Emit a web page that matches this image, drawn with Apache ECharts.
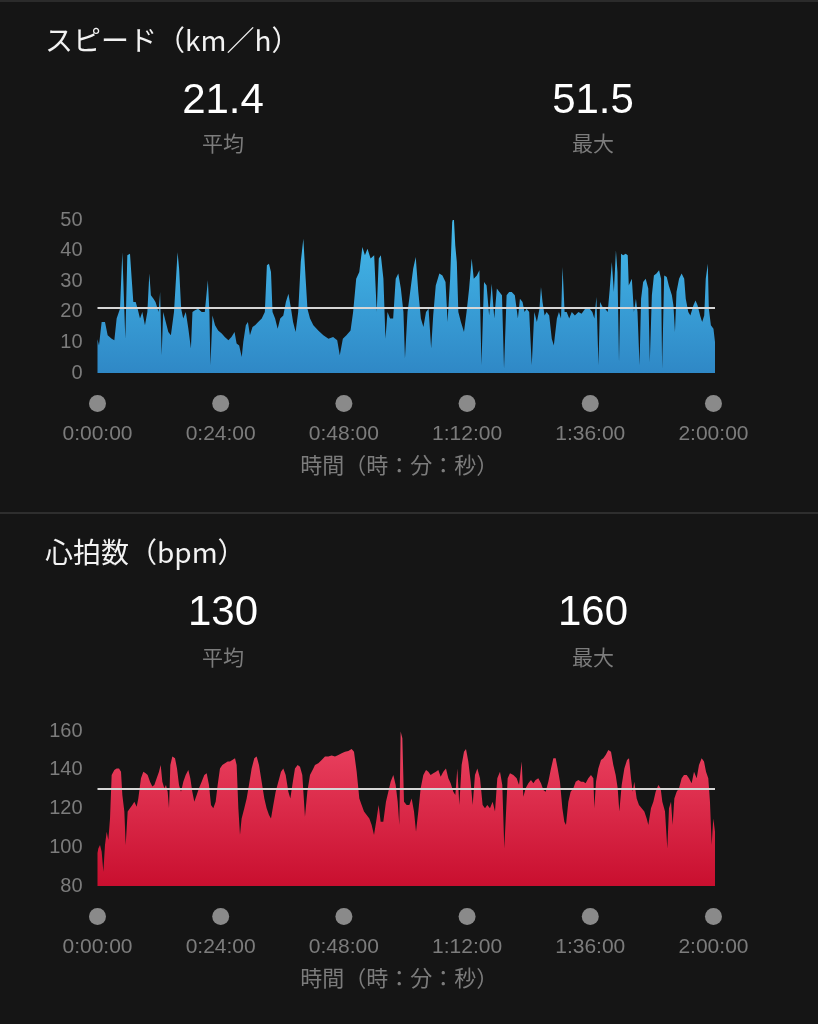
<!DOCTYPE html>
<html>
<head>
<meta charset="utf-8">
<script src="https://cdn.jsdelivr.net/npm/echarts@6/dist/echarts.min.js"></script>
<style>
html,body{margin:0;padding:0;background:#151515;}
#c{width:818px;height:1024px;}
</style>
</head>
<body>
<div id="c"></div>
<script>
// ---- data (minutes since start) ----
const speedTime = [0,0.29,0.81,1.46,1.98,2.76,3.28,3.73,4.38,4.84,5.42,5.81,6.33,6.66,6.98,7.44,7.82,8.28,8.73,9.25,9.71,10.1,10.4,10.9,11.3,11.9,12.2,12.5,12.8,13.3,13.8,14.3,14.9,15.6,15.9,16.3,16.7,17.2,17.7,18.2,18.5,19.0,19.6,20.3,20.9,21.5,21.8,22.0,22.4,22.9,23.5,24.2,24.8,25.5,26.1,26.7,27.1,27.6,28.1,28.4,28.9,29.3,29.7,30.2,30.7,31.3,32.0,32.6,33.0,33.4,33.8,34.1,34.6,35.1,35.6,36.2,36.7,37.2,37.7,38.1,38.6,39.1,39.6,40.1,40.55,40.9,41.4,42.05,43.0,44.0,45.0,45.9,46.7,47.2,47.8,48.5,49.3,49.8,50.4,51.0,51.6,52.1,52.6,53.2,53.9,54.4,54.8,55.2,55.7,56.1,56.5,57.0,57.6,58.1,58.6,59.1,59.6,59.9,60.4,61.0,61.5,62.0,62.5,63.0,63.5,64.0,64.5,65.0,65.4,65.9,66.6,67.2,67.8,68.2,68.7,69.1,69.4,69.7,70.0,70.3,70.8,71.4,71.9,72.4,72.9,73.3,73.9,74.4,74.8,75.3,75.8,76.3,76.8,77.3,77.8,78.3,78.8,79.2,79.7,80.2,80.7,81.3,81.9,82.3,82.8,83.2,83.6,84.1,84.6,85.1,85.6,86.1,86.4,86.7,87.1,87.5,88.0,88.5,88.9,89.5,89.9,90.3,90.6,91.0,91.4,91.9,92.4,93.0,93.7,94.3,95.0,95.5,95.9,96.4,96.8,97.2,97.6,97.9,98.4,98.9,99.4,99.8,100.2,100.6,101.0,101.3,101.6,102.0,102.4,102.9,103.3,103.5,104.1,104.5,104.9,105.2,105.6,105.9,106.3,106.8,107.3,107.6,108.0,108.4,108.9,109.4,109.8,110.0,110.4,110.9,111.3,111.9,112.2,112.5,112.8,113.3,113.8,114.3,114.6,115.1,115.5,116.1,116.5,116.9,117.4,117.8,118.2,118.5,118.9,119.1,119.5,120.0,120.3];
const speedValues = [11,9.0,16.7,16.7,12.3,11.2,10.7,17.8,21.0,39.5,11.2,38.5,39.0,30.8,23.2,23.2,21.0,17.8,19.9,15.6,19.9,32.5,25.4,24.3,23.2,19.9,26.5,5.8,19.9,16.7,13.4,12.3,19.9,39.5,34.1,21.0,17.8,19.9,14.5,8.0,19.9,20.5,21.0,19.9,19.9,30.3,19.9,2.5,18.8,15.6,13.9,12.9,11.8,10.7,11.8,13.4,9.6,9.0,5.2,10.1,15.6,16.7,12.3,15.0,15.6,16.7,17.8,19.9,35.2,35.7,33.0,19.9,17.8,14.5,17.8,18.8,23.2,25.9,21.0,16.7,13.4,19.9,36.3,43.9,30.8,21.0,17.8,15.6,13.9,12.3,11.2,11.8,10.7,5.8,11.2,12.3,13.9,19.9,30.8,33.0,41.2,38.5,40.6,37.4,38.5,19.9,37.4,38.5,30.8,11.2,19.9,17.8,17.8,30.8,32.5,27.6,19.9,4.7,19.9,27.6,34.1,37.9,26.5,17.8,15.0,19.9,21.0,8.0,18.8,28.6,32.5,31.9,29.7,16.7,30.8,49.3,51.5,41.7,36.3,19.9,16.7,13.4,19.9,27.6,37.4,30.8,31.9,33.6,2.5,29.7,28.6,18.8,29.2,17.8,27.6,26.5,25.4,1.4,25.4,26.5,26.5,25.4,17.8,24.3,23.2,19.9,21.0,19.9,2.5,19.9,16.7,21.0,28.1,23.2,18.8,19.9,18.8,11.2,9.0,17.8,19.9,17.8,34.6,19.9,19.9,17.8,19.9,18.8,19.9,19.4,21.0,21.6,21.0,19.9,17.8,24.8,2.5,23.2,21.6,21.0,19.9,27.6,36.3,26.5,40.1,33.0,3.6,39.0,38.5,39.0,38.5,28.6,30.8,19.9,24.3,19.9,2.5,24.3,29.7,30.8,27.6,3.6,25.4,31.9,32.5,33.6,30.8,1.4,31.9,31.4,28.6,25.4,22.1,13.4,26.5,30.8,32.5,30.8,24.3,19.9,18.8,22.1,23.7,22.1,18.8,16.7,18.8,30.8,35.7,21.0,15.6,14.5,10.1];

const hrTime = [0,0.16,0.49,0.81,1.14,1.46,1.79,2.11,2.44,2.76,3.28,3.73,4.19,4.58,4.84,5.23,5.49,5.88,6.33,6.79,7.18,7.63,7.95,8.47,8.93,9.38,9.77,10.23,10.68,11.07,11.53,11.98,12.31,12.63,13.02,13.34,13.67,13.93,14.19,14.58,15.10,15.49,15.88,16.27,16.72,17.18,17.69,18.08,18.47,18.86,19.32,19.77,20.29,20.81,21.27,21.72,22.11,22.56,23.02,23.41,23.86,24.32,24.84,25.36,25.81,26.27,26.79,27.11,27.44,27.76,28.08,28.60,29.06,29.51,30.03,30.55,31.01,31.46,31.98,32.50,32.95,33.41,33.80,34.25,34.71,35.23,35.75,36.20,36.66,37.18,37.57,37.96,38.47,38.99,39.45,39.90,40.42,40.88,41.40,42.05,42.37,43.02,43.67,44.32,44.97,45.62,46.27,46.92,47.57,48.22,48.87,49.51,49.97,50.49,51.01,51.46,51.92,52.44,52.96,53.41,53.87,54.38,54.77,55.16,55.68,56.20,56.66,57.11,57.63,58.09,58.48,58.80,59.06,59.39,59.71,60.23,60.75,61.20,61.66,62.05,62.50,62.96,63.48,64.00,64.45,64.90,65.42,65.94,66.40,66.85,67.37,67.89,68.35,68.80,69.32,69.71,70.10,70.49,70.94,71.40,71.79,72.24,72.70,73.09,73.54,74.00,74.52,75.03,75.49,75.94,76.46,76.98,77.44,77.89,78.41,78.86,79.25,79.91,80.36,81.01,81.66,82.12,82.64,82.96,83.42,83.94,84.45,84.91,85.36,85.88,86.40,86.86,87.31,87.83,88.35,88.81,89.26,89.65,90.10,90.56,90.95,91.27,91.73,92.18,92.70,93.16,93.68,94.20,94.65,95.10,95.62,96.14,96.60,96.79,97.12,97.57,98.09,98.55,99.00,99.52,100.04,100.49,100.95,101.34,101.66,102.12,102.64,103.16,103.55,103.94,104.26,104.58,105.04,105.49,106.01,106.53,106.99,107.31,107.83,108.29,108.74,109.26,109.71,110.04,110.56,111.01,111.34,111.73,112.05,112.38,112.83,113.29,113.81,114.26,114.78,115.23,115.75,116.21,116.73,117.18,117.70,118.16,118.55,118.99,119.32,119.65,119.97,120.30];
const hrValues = [97,99.4,101.2,97.7,87.4,101.2,108.0,103.7,114.9,137.3,139.9,140.7,140.7,139.0,127.0,118.4,101.2,118.4,120.1,121.8,123.5,120.9,125.2,135.6,139.0,138.2,137.3,133.8,131.3,132.1,135.6,139.0,142.5,133.8,130.4,132.1,128.7,120.1,142.5,146.8,145.9,140.7,132.1,128.7,133.8,137.3,139.9,135.6,128.7,123.5,127.0,130.4,133.8,137.3,138.2,132.1,121.8,120.1,123.5,132.1,140.7,142.5,143.3,144.2,144.2,145.0,145.9,142.5,120.1,106.3,114.9,120.1,125.2,132.1,140.7,145.9,146.8,142.5,133.8,125.2,120.1,116.6,114.9,121.8,128.7,133.8,139.0,140.7,137.3,128.7,125.2,132.1,140.7,142.5,141.6,137.3,115.8,128.7,137.3,140.7,142.5,143.3,145.0,146.8,146.8,147.3,146.8,147.6,148.5,149.3,149.7,150.7,149.3,139.0,125.2,121.8,118.4,116.6,114.9,111.5,106.3,114.9,121.8,113.2,113.2,123.5,128.7,133.8,137.3,132.1,123.5,111.5,159.7,156.2,123.5,121.8,121.8,125.2,118.4,108.0,118.4,130.4,137.3,139.9,139.0,137.3,138.2,139.0,139.9,136.4,139.0,140.7,135.6,133.0,128.7,127.0,140.7,121.8,142.5,149.3,150.7,144.2,133.8,121.8,137.3,140.7,135.6,121.8,120.1,121.8,120.1,123.5,118.4,135.6,139.0,132.1,99.4,135.6,138.2,137.3,135.6,132.1,144.2,126.1,130.4,133.0,134.7,133.0,134.7,135.6,133.0,129.5,128.7,133.8,140.7,145.9,145.9,140.7,133.8,120.1,113.2,111.5,123.5,128.7,130.4,133.8,134.7,133.8,133.8,133.0,135.6,137.3,135.6,120.1,133.8,140.7,145.0,145.9,147.6,150.2,149.3,142.5,137.3,130.4,118.4,132.1,140.7,145.0,145.9,135.6,128.7,133.8,125.2,121.8,120.1,118.4,114.9,111.5,120.1,123.5,128.7,132.1,130.4,123.5,118.4,99.4,120.1,123.5,111.5,125.2,128.7,130.4,135.6,137.3,137.3,135.6,133.0,139.0,135.6,142.5,145.9,144.2,139.0,135.6,123.5,101.2,114.9,108.0];

const xTickLabels = ['0:00:00','0:24:00','0:48:00','1:12:00','1:36:00','2:00:00'];
const speedTicks = [0,10,20,30,40,50];
const hrTicks = [80,100,120,140,160];
const speedStats = {avg: '21.4', max: '51.5'};
const hrStats = {avg: '130', max: '160'};
const speedAvg = 21.4;
const hrAvg = 130;

// ---- chart ----
const chart = echarts.init(document.getElementById('c'), null, {renderer: 'canvas'});
const NUM_FONT = '"Liberation Sans", "Noto Sans CJK JP", sans-serif';
const JP_FONT = '"Noto Sans CJK JP", "Liberation Sans", sans-serif';
const GRAY = '#7c7c7c';

function xAxisFor(gridIndex) {
  return {
    type: 'value', gridIndex, min: 0, max: 120.3, interval: 24,
    axisLine: {show: false}, axisTick: {show: false}, splitLine: {show: false},
    axisLabel: {
      margin: 22,
      formatter: v => {
        const i = Math.round(v / 24);
        if (Math.abs(v - i * 24) > 1e-6 || i >= xTickLabels.length) return '';
        return '{dot|}\n{t|' + xTickLabels[i] + '}';
      },
      rich: {
        dot: {width: 17, height: 17, borderRadius: 8.5, backgroundColor: '#8a8a8a', align: 'center'},
        t: {fontSize: 21, color: GRAY, fontFamily: NUM_FONT, padding: [12, 0, 0, 0], align: 'center'}
      }
    },
    name: '時間（時：分：秒）', nameLocation: 'middle', nameGap: 81,
    nameTextStyle: {fontSize: 22, color: GRAY, fontFamily: JP_FONT, padding: [0, 14, 0, 0]}
  };
}
function yAxisFor(gridIndex, ticks) {
  return {
    type: 'value', gridIndex, min: ticks[0], max: ticks[ticks.length - 1],
    interval: ticks[1] - ticks[0],
    axisLine: {show: false}, axisTick: {show: false}, splitLine: {show: false},
    axisLabel: {margin: 15, fontSize: 20, color: GRAY, fontFamily: NUM_FONT}
  };
}
function areaSeries(idx, times, vals, topColor, botColor, avg) {
  return {
    type: 'line', xAxisIndex: idx, yAxisIndex: idx,
    data: times.map((t, i) => [t, vals[i]]),
    showSymbol: false, symbol: 'none', smooth: false,
    lineStyle: {width: 0},
    areaStyle: {opacity: 1, color: new echarts.graphic.LinearGradient(0, 0, 0, 1, [
      {offset: 0, color: topColor}, {offset: 1, color: botColor}
    ]), origin: 'start'},
    markLine: {
      silent: true, symbol: 'none', label: {show: false},
      lineStyle: {color: '#d6d6d6', width: 2, type: 'solid'},
      data: [{yAxis: avg}]
    },
    z: 2
  };
}
function txt(x, y, text, size, color, align, font) {
  return {type: 'text', x, y, silent: true, style: {
    text, fill: color, fontSize: size, fontFamily: font,
    textAlign: align, textVerticalAlign: 'middle', align: align, verticalAlign: 'middle'
  }};
}

chart.setOption({
  backgroundColor: '#151515',
  animation: false,
  grid: [
    {left: 97.5, width: 617.5, top: 220, height: 153},
    {left: 97.5, width: 617.5, top: 731, height: 155}
  ],
  xAxis: [xAxisFor(0), xAxisFor(1)],
  yAxis: [yAxisFor(0, speedTicks), yAxisFor(1, hrTicks)],
  series: [
    areaSeries(0, speedTime, speedValues, '#45bcec', '#2f88c6', speedAvg),
    areaSeries(1, hrTime, hrValues, '#ec4563', '#c90f2f', hrAvg)
  ],
  graphic: [
    {type: 'rect', shape: {x: 0, y: 0, width: 818, height: 2}, style: {fill: '#2b2b2b'}, silent: true},
    {type: 'rect', shape: {x: 0, y: 512, width: 818, height: 2}, style: {fill: '#2e2e2e'}, silent: true},
    txt(45, 40, 'スピード（km／h）', 28, '#f2f2f2', 'left', JP_FONT),
    txt(223, 101, speedStats.avg, 42, '#ffffff', 'center', NUM_FONT),
    txt(223, 143, '平均', 21, GRAY, 'center', JP_FONT),
    txt(593, 101, speedStats.max, 42, '#ffffff', 'center', NUM_FONT),
    txt(593, 143, '最大', 21, GRAY, 'center', JP_FONT),
    txt(45, 552, '心拍数（bpm）', 28, '#f2f2f2', 'left', JP_FONT),
    txt(223, 613, hrStats.avg, 42, '#ffffff', 'center', NUM_FONT),
    txt(223, 657, '平均', 21, GRAY, 'center', JP_FONT),
    txt(593, 613, hrStats.max, 42, '#ffffff', 'center', NUM_FONT),
    txt(593, 657, '最大', 21, GRAY, 'center', JP_FONT)
  ]
});
</script>
</body>
</html>
